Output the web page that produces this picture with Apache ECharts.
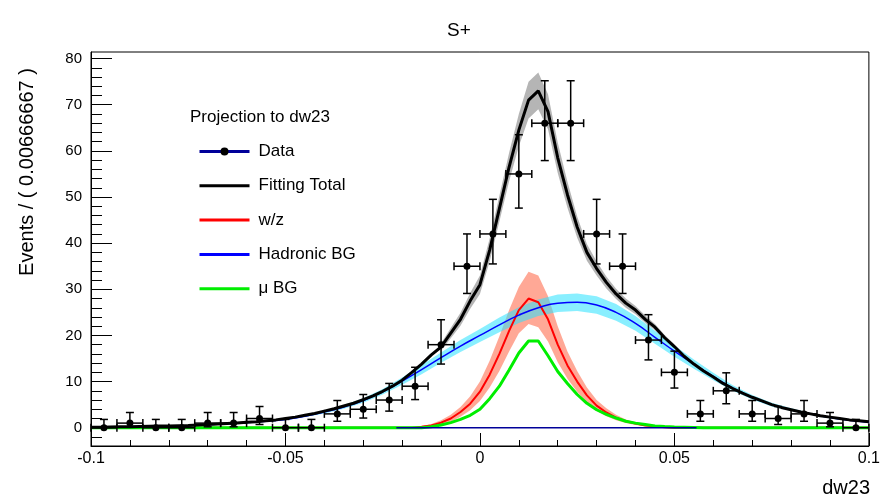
<!DOCTYPE html>
<html>
<head>
<meta charset="utf-8">
<title>S+ projection to dw23</title>
<script src="https://cdn.jsdelivr.net/npm/echarts@6.0.0/dist/echarts.min.js"></script>
<style>
html, body { margin: 0; padding: 0; background: #fff; }
#main { width: 883px; height: 498px; }
</style>
</head>
<body>
<div id="main"></div>
<script>
var FONT = "'Liberation Sans', Arial, sans-serif";

// binned data, bin width 0.00666667
var binWidth = 0.00666667;
var dataX = [-0.09667, -0.09, -0.08333, -0.07667, -0.07, -0.06333, -0.05667, -0.05, -0.04333, -0.03667,
             -0.03, -0.02333, -0.01667, -0.01, -0.00333, 0.00333, 0.01, 0.01667, 0.02333, 0.03,
             0.03667, 0.04333, 0.05, 0.05667, 0.06333, 0.07, 0.07667, 0.08333, 0.09, 0.09667];
var dataY = [0, 1, 0, 0, 1, 1, 2, 0, 0, 3, 4, 6, 9, 18, 35, 42, 55, 66, 66, 42, 35, 19, 12, 3, 8, 3, 2, 3, 1, 0];
var errLow = [0, 0.8, 0, 0, 0.8, 0.8, 1.3, 0, 0, 1.6, 1.9, 2.4, 2.9, 4.2, 5.9, 6.5, 7.4, 8.1, 8.1, 6.5,
              5.9, 4.3, 3.4, 1.6, 2.8, 1.6, 1.3, 1.6, 0.8, 0];
var errHigh = [1.8, 2.3, 1.8, 1.8, 2.3, 2.3, 2.6, 1.8, 1.8, 2.9, 3.2, 3.6, 4.1, 5.4, 7.0, 7.5, 8.5, 9.2, 9.2, 7.5,
               7.0, 5.5, 4.6, 2.9, 3.9, 2.9, 2.6, 2.9, 2.3, 1.8];

// fine grid used by the pdf curves
var curveX = [-0.1, -0.0975, -0.095, -0.0925, -0.09, -0.0875, -0.085, -0.0825, -0.08, -0.0775,
              -0.075, -0.0725, -0.07, -0.0675, -0.065, -0.0625, -0.06, -0.0575, -0.055, -0.0525,
              -0.05, -0.0475, -0.045, -0.0425, -0.04, -0.0375, -0.035, -0.0325, -0.03, -0.0275,
              -0.025, -0.0225, -0.02, -0.0175, -0.015, -0.0125, -0.01, -0.0075, -0.005, -0.0025,
              0, 0.0025, 0.005, 0.0075, 0.01, 0.0125, 0.015, 0.0175, 0.02, 0.0225,
              0.025, 0.0275, 0.03, 0.0325, 0.035, 0.0375, 0.04, 0.0425, 0.045, 0.0475,
              0.05, 0.0525, 0.055, 0.0575, 0.06, 0.0625, 0.065, 0.0675, 0.07, 0.0725,
              0.075, 0.0775, 0.08, 0.0825, 0.085, 0.0875, 0.09, 0.0925, 0.095, 0.0975, 0.1];
var totalY = [0.1, 0.1, 0.15, 0.2, 0.2, 0.25, 0.3, 0.35, 0.4, 0.45,
              0.5, 0.6, 0.7, 0.8, 0.9, 1.0, 1.2, 1.3, 1.5, 1.7,
              2.0, 2.3, 2.7, 3.1, 3.6, 4.1, 4.7, 5.3, 6.1, 6.9,
              7.9, 9.0, 10.3, 12.0, 13.8, 15.8, 17.5, 20.5, 23.5, 27.5,
              31.0, 38.5, 47.5, 56.5, 64.5, 71.0, 73.0, 68.5, 58.5, 50.5,
              43.5, 38.0, 34.5, 31.5, 29.0, 27.0, 25.5, 23.5, 21.8, 19.5,
              17.6, 15.5, 13.8, 12.3, 11.0, 9.6, 8.5, 7.5, 6.6, 5.8,
              5.0, 4.4, 3.9, 3.4, 3.0, 2.6, 2.3, 2.0, 1.7, 1.5, 1.3];
var wzY = [0, 0, 0, 0, 0, 0, 0, 0, 0, 0,
           0, 0, 0, 0, 0, 0, 0, 0, 0, 0,
           0, 0, 0, 0, 0, 0, 0, 0, 0, 0,
           0, 0, 0, 0, 0.2, 0.5, 1.1, 2.0, 3.4, 5.2,
           7.8, 11.5, 16.0, 21.0, 25.5, 28.0, 27.2, 23.5, 18.0, 13.5,
           10.0, 7.0, 4.8, 3.3, 2.2, 1.4, 0.9, 0.5, 0.3, 0.1,
           0, 0, 0, 0, 0, 0, 0, 0, 0, 0,
           0, 0, 0, 0, 0, 0, 0, 0, 0, 0, 0];
var muY = [0, 0, 0, 0, 0, 0, 0, 0, 0, 0,
           0, 0, 0, 0, 0, 0, 0, 0, 0, 0,
           0, 0, 0, 0, 0, 0, 0, 0, 0, 0,
           0, 0, 0, 0, 0, 0.2, 0.6, 1.1, 1.8, 2.7,
           4.0, 6.3, 9.0, 12.5, 16.2, 18.8, 18.8, 15.6, 12.2, 9.6,
           7.2, 5.3, 3.9, 2.9, 2.1, 1.4, 1.0, 0.7, 0.4, 0.25,
           0.15, 0.1, 0.05, 0, 0, 0, 0, 0, 0, 0,
           0, 0, 0, 0, 0, 0, 0, 0, 0, 0, 0];

// error band of the total fit
var totBandX = [-0.01, -0.0075, -0.005, -0.0025, 0, 0.0025, 0.005, 0.0075, 0.01, 0.0125, 0.015, 0.0175, 0.02,
                0.0225, 0.025, 0.0275, 0.03, 0.0325, 0.035, 0.0375, 0.04, 0.0425, 0.045, 0.0475, 0.05];
var totHi = [18.3, 21.6, 24.9, 29.2, 33.0, 41.0, 50.3, 59.6, 68.0, 75.0, 77.0, 72.3, 61.8,
             53.3, 45.8, 39.8, 36.0, 32.8, 30.1, 28.0, 26.4, 24.3, 22.5, 20.1, 18.1];
var totLo = [16.7, 19.4, 22.1, 25.8, 29.0, 36.0, 44.7, 53.4, 61.0, 67.0, 69.0, 64.7, 55.2,
             47.7, 41.2, 36.2, 33.0, 30.2, 27.9, 26.0, 24.6, 22.7, 21.1, 18.9, 17.1];

// error band of w/z
var wzBandX = [-0.015, -0.0125, -0.01, -0.0075, -0.005, -0.0025, 0, 0.0025, 0.005, 0.0075, 0.01, 0.0125, 0.015,
               0.0175, 0.02, 0.0225, 0.025, 0.0275, 0.03, 0.0325, 0.035, 0.0375, 0.04, 0.0425, 0.045, 0.0475];
var wzHi = [0.4, 0.8, 1.6, 2.8, 4.5, 6.8, 10.0, 14.5, 19.8, 25.5, 30.5, 33.8, 33.0,
            28.5, 22.0, 16.5, 12.3, 8.7, 6.0, 4.2, 2.8, 1.8, 1.2, 0.7, 0.4, 0.2];
var wzLo = [0.1, 0.3, 0.7, 1.3, 2.4, 3.8, 5.8, 8.7, 12.3, 16.5, 20.5, 22.5, 21.8,
            18.7, 14.2, 10.6, 7.8, 5.4, 3.7, 2.5, 1.6, 1.0, 0.6, 0.3, 0.2, 0];

// hadronic background, smooth
var hadX = [-0.1, -0.095, -0.09, -0.085, -0.08, -0.075, -0.07, -0.065, -0.06, -0.055,
            -0.05, -0.045, -0.04, -0.035, -0.03, -0.025, -0.02, -0.015, -0.01, -0.005,
            0, 0.005, 0.01, 0.015, 0.02, 0.025, 0.03, 0.035, 0.04, 0.045,
            0.05, 0.055, 0.06, 0.065, 0.07, 0.075, 0.08, 0.085, 0.09, 0.095, 0.1];
var hadY = [0.1, 0.15, 0.2, 0.3, 0.4, 0.5, 0.65, 0.85, 1.1, 1.4,
            1.8, 2.5, 3.4, 4.5, 5.9, 7.8, 10.1, 12.6, 15.2, 17.7,
            20.0, 22.3, 24.4, 26.0, 27.0, 27.2, 26.6, 25.0, 22.6, 19.6,
            16.6, 13.8, 11.1, 8.6, 6.6, 5.0, 3.9, 3.0, 2.2, 1.6, 1.2];
var hadHi = [0.1, 0.15, 0.2, 0.3, 0.4, 0.5, 0.7, 0.9, 1.2, 1.5,
             2.0, 2.7, 3.7, 4.9, 6.4, 8.4, 10.9, 13.6, 16.3, 19.0,
             21.4, 23.9, 26.1, 27.8, 28.9, 29.1, 28.5, 26.8, 24.2, 21.0,
             17.8, 14.8, 11.9, 9.2, 7.1, 5.4, 4.2, 3.2, 2.4, 1.7, 1.3];
var hadLo = [0.1, 0.15, 0.2, 0.3, 0.4, 0.5, 0.6, 0.8, 1.0, 1.3,
             1.6, 2.3, 3.1, 4.1, 5.4, 7.2, 9.3, 11.6, 14.1, 16.4,
             18.6, 20.7, 22.7, 24.2, 25.1, 25.3, 24.7, 23.2, 21.0, 18.2,
             15.4, 12.8, 10.3, 8.0, 6.1, 4.6, 3.6, 2.8, 2.0, 1.5, 1.1];

// the dark blue flat line at zero
var zeroLineX = [-0.0215, 0.0557];
var zeroLineY = [0, 0];

var yMajor = [0, 10, 20, 30, 40, 50, 60, 70, 80];
var yMinor = [];
for (var v = -2; v <= 80; v += 2) yMinor.push(v);

function pairs(xs, ys) {
	var out = [];
	for (var i = 0; i < xs.length; i++) out.push([xs[i], ys[i]]);
	return out;
}

function bandRenderer(xs, his, los, color) {
	return function (params, api) {
		var pts = [], i;
		for (i = 0; i < xs.length; i++) pts.push(api.coord([xs[i], his[i]]));
		for (i = xs.length - 1; i >= 0; i--) pts.push(api.coord([xs[i], los[i]]));
		return { type: 'polygon', shape: { points: pts }, style: { fill: color } };
	};
}

function renderPoint(params, api) {
	var x = api.value(0), y = api.value(1);
	var lo = y - api.value(2), hi = y + api.value(3);
	var p = api.coord([x, y]);
	var pl = api.coord([x - binWidth / 2, y]);
	var pr = api.coord([x + binWidth / 2, y]);
	var pt = api.coord([x, hi]);
	var pb = api.coord([x, lo]);
	var st = { stroke: '#000', lineWidth: 1.5 };
	var cap = 4;
	var kids = [
		{ type: 'line', shape: { x1: pl[0], y1: p[1], x2: pr[0], y2: p[1] }, style: st },
		{ type: 'line', shape: { x1: pl[0], y1: p[1] - cap, x2: pl[0], y2: p[1] + cap }, style: st },
		{ type: 'line', shape: { x1: pr[0], y1: p[1] - cap, x2: pr[0], y2: p[1] + cap }, style: st },
		{ type: 'line', shape: { x1: p[0], y1: pt[1], x2: p[0], y2: pb[1] }, style: st },
		{ type: 'line', shape: { x1: p[0] - cap, y1: pt[1], x2: p[0] + cap, y2: pt[1] }, style: st },
		{ type: 'circle', shape: { cx: p[0], cy: p[1], r: 3.5 }, style: { fill: '#000' } }
	];
	if (api.value(2) > 0) {
		kids.push({ type: 'line', shape: { x1: p[0] - cap, y1: pb[1], x2: p[0] + cap, y2: pb[1] }, style: st });
	}
	return { type: 'group', children: kids };
}

var pointData = [];
for (var i = 0; i < dataX.length; i++) pointData.push([dataX[i], dataY[i], errLow[i], errHigh[i]]);

var chart = echarts.init(document.getElementById('main'));
var option = {
	animation: false,
	backgroundColor: '#fff',
	textStyle: { fontFamily: FONT },
	grid: { left: 91, right: 10, top: 52, bottom: 52, show: true, borderColor: '#000', borderWidth: 1 },
	legend: {
		orient: 'vertical',
		left: 193,
		top: 138,
		itemWidth: 50,
		itemHeight: 10,
		itemGap: 17.3,
		selectedMode: false,
		textStyle: { fontFamily: FONT, fontSize: 17, color: '#000', lineHeight: 16, padding: [0, 0, 0, 4] },
		data: [
			{ name: 'Data', lineStyle: { width: 3 } },
			{ name: 'Fitting Total', lineStyle: { width: 3 }, itemStyle: { opacity: 0 } },
			{ name: 'w/z', lineStyle: { width: 3 }, itemStyle: { opacity: 0 } },
			{ name: 'Hadronic BG', lineStyle: { width: 3 }, itemStyle: { opacity: 0 } },
			{ name: 'μ BG', lineStyle: { width: 3 }, itemStyle: { opacity: 0 } }
		]
	},
	graphic: [
		{ type: 'text', x: 459, y: 31, style: { text: 'S+', font: '19px ' + FONT, fill: '#000', align: 'center', verticalAlign: 'middle' } },
		{ type: 'text', x: 190, y: 117, style: { text: 'Projection to dw23', font: '17px ' + FONT, fill: '#000', align: 'left', verticalAlign: 'middle' } },
		{ type: 'text', x: 27, y: 172, rotation: Math.PI / 2, style: { text: 'Events / ( 0.00666667 )', font: '20px ' + FONT, fill: '#000', align: 'center', verticalAlign: 'middle' } },
		{ type: 'text', x: 870, y: 488, style: { text: 'dw23', font: '20px ' + FONT, fill: '#000', align: 'right', verticalAlign: 'middle' } }
	],
	xAxis: {
		type: 'value',
		min: -0.1,
		max: 0.1,
		interval: 0.05,
		axisLine: { onZero: false, lineStyle: { color: '#000', width: 1 } },
		axisTick: { inside: true, length: 13, lineStyle: { color: '#000' } },
		minorTick: { show: true, splitNumber: 5, length: 6, lineStyle: { color: '#000' } },
		splitLine: { show: false },
		axisLabel: {
			fontSize: 16, color: '#000', margin: 5, fontFamily: FONT,
			formatter: function (v) { return String(+v.toFixed(3)); }
		}
	},
	yAxis: [
		{
			type: 'value',
			min: -3.96,
			max: 81.43,
			axisLine: { onZero: false, lineStyle: { color: '#000', width: 1 } },
			axisTick: { inside: true, length: 21, customValues: yMajor, lineStyle: { color: '#000' } },
			axisLabel: { fontSize: 15, color: '#000', margin: 9, fontFamily: FONT, customValues: yMajor },
			splitLine: { show: false }
		},
		{
			type: 'value',
			min: -3.96,
			max: 81.43,
			position: 'left',
			axisLine: { show: false, onZero: false },
			axisTick: { inside: true, length: 11, customValues: yMinor, lineStyle: { color: '#000' } },
			axisLabel: { show: false },
			splitLine: { show: false }
		}
	],
	series: [
		{
			name: 'totalBand', type: 'custom', data: [[0, 0]], silent: true, z: 1,
			renderItem: bandRenderer(totBandX, totHi, totLo, 'rgba(120,120,120,0.55)')
		},
		{
			name: 'wzBand', type: 'custom', data: [[0, 0]], silent: true, z: 1,
			renderItem: bandRenderer(wzBandX, wzHi, wzLo, 'rgba(255,110,80,0.6)')
		},
		{
			name: 'hadBand', type: 'custom', data: [[0, 0]], silent: true, z: 1,
			renderItem: bandRenderer(hadX, hadHi, hadLo, 'rgba(40,225,255,0.55)')
		},
		{
			name: 'w/z', type: 'line', symbol: 'none', z: 2,
			data: pairs(curveX, wzY),
			lineStyle: { color: '#ff0000', width: 2 }, itemStyle: { color: '#ff0000' }
		},
		{
			name: 'μ BG', type: 'line', symbol: 'none', z: 3,
			data: pairs(curveX, muY),
			lineStyle: { color: '#00ee00', width: 3 }, itemStyle: { color: '#00ee00' }
		},
		{
			name: 'zeroLine', type: 'line', symbol: 'none', z: 3,
			data: pairs(zeroLineX, zeroLineY),
			lineStyle: { color: '#000099', width: 1.5 }
		},
		{
			name: 'Hadronic BG', type: 'line', smooth: true, symbol: 'none', z: 4,
			data: pairs(hadX, hadY),
			lineStyle: { color: '#0000ff', width: 1.5 }, itemStyle: { color: '#0000ff' }
		},
		{
			name: 'Fitting Total', type: 'line', symbol: 'none', z: 5,
			data: pairs(curveX, totalY),
			lineStyle: { color: '#000', width: 3 }, itemStyle: { color: '#000' }
		},
		{
			name: 'points', type: 'custom', z: 6,
			data: pointData,
			encode: { x: 0, y: 1 },
			renderItem: renderPoint
		},
		{
			name: 'Data', type: 'line', data: [], symbol: 'circle',
			lineStyle: { color: '#000099', width: 3 }, itemStyle: { color: '#000' }
		}
	]
};
chart.setOption(option);
</script>
</body>
</html>
